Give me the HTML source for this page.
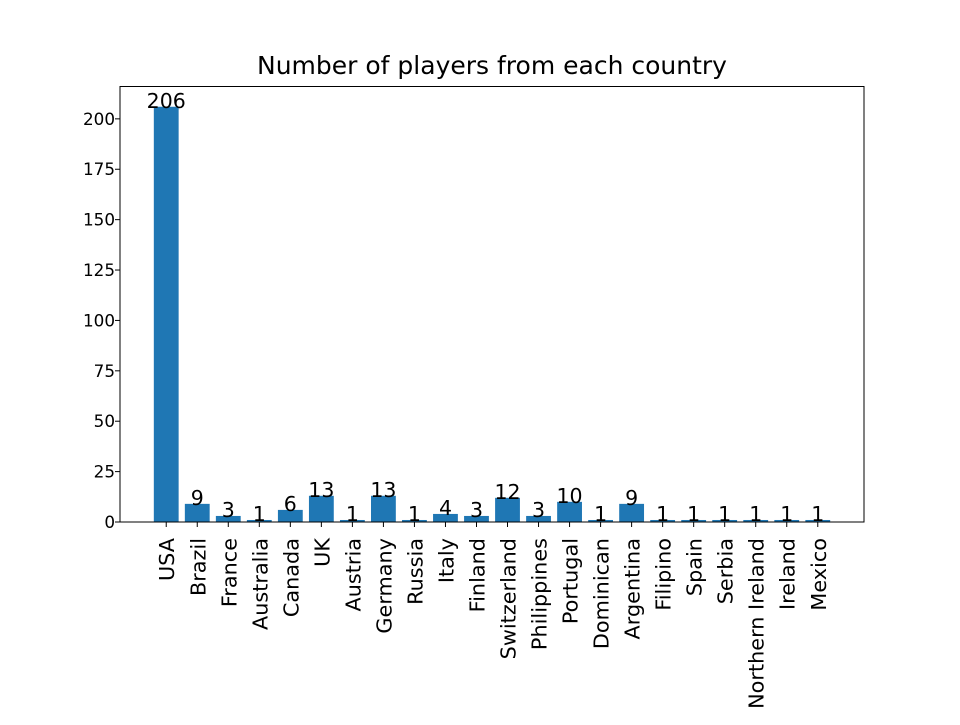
<!DOCTYPE html>
<html><head><meta charset="utf-8"><style>
body{margin:0;background:#fff}
svg{font-family:"DejaVu Sans","Liberation Sans",sans-serif}
</style></head><body>
<svg id="chart" width="960" height="720">
<rect width="960" height="720" fill="#fff"/>
<text x="492" y="74" font-size="25" text-anchor="middle">Number of players from each country</text>
<g id="bars"></g><g id="yticks"></g><g id="xticks"></g>
<rect x="120" y="86.5" width="744" height="435.5" fill="none" stroke="#000" stroke-width="1"/>
</svg>
<script>
const categories=["USA","Brazil","France","Australia","Canada","UK","Austria","Germany","Russia","Italy","Finland","Switzerland","Philippines","Portugal","Dominican","Argentina","Filipino","Spain","Serbia","Northern Ireland","Ireland","Mexico"];
const values=[206,9,3,1,6,13,1,13,1,4,3,12,3,10,1,9,1,1,1,1,1,1];
const yTickValues=[0,25,50,75,100,125,150,175,200];
const NS="http://www.w3.org/2000/svg";
const L=120,R=864,T=86,B=522;
const n=categories.length;
const xmin=-0.4-0.05*(n-1+0.8),xmax=n-1+0.4+0.05*(n-1+0.8);
const ymax=Math.max(...values)*1.05;
const xs=v=>L+(v-xmin)/(xmax-xmin)*(R-L);
const ys=v=>B-v/ymax*(B-T);
function mk(t,a,p){const e=document.createElementNS(NS,t);for(const k in a)e.setAttribute(k,a[k]);p.appendChild(e);return e;}
const gb=document.getElementById('bars'),gy=document.getElementById('yticks'),gx=document.getElementById('xticks');
categories.forEach((c,i)=>{
  const x0=xs(i-0.4),x1=xs(i+0.4),y=ys(values[i]);
  const r=mk('rect',{x:x0,y:y,width:x1-x0,height:B-y,fill:'#1f77b4'},gb);
  
  
  const t=mk('text',{x:xs(i),y:y+1,'font-size':'20.5','text-anchor':'middle'},gb);
  t.textContent=values[i];
  
  
  mk('line',{x1:xs(i),x2:xs(i),y1:B,y2:B+5,stroke:'#000'},gx);
  const lx=xs(i)+8;
  const xl=mk('text',{x:lx,y:B+16,'font-size':'20.8','text-anchor':'end',transform:`rotate(-90 ${lx} ${B+16})`},gx);
  xl.textContent=c;
  
  
});
yTickValues.forEach(v=>{
  const y=ys(v);
  mk('line',{x1:L-5,x2:L,y1:y,y2:y,stroke:'#000'},gy);
  const t=mk('text',{x:L-5,y:y+6,'font-size':'16.8','text-anchor':'end'},gy);
  t.textContent=v;
  
  
});
</script>
</body></html>
